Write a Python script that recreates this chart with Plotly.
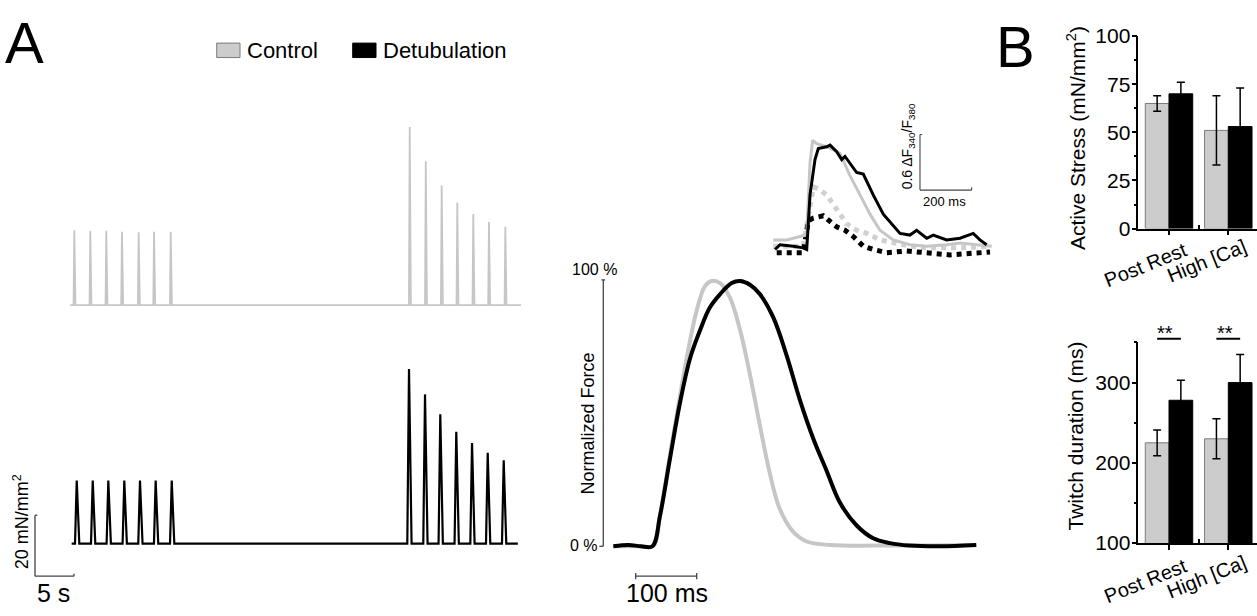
import plotly.graph_objects as go

W, H = 1257, 616

# ---------------- Panel A: long force recordings (time in s, stress in mN/mm2) -------------
ctrl_twitch_times = [5.04, 7.09, 9.14, 11.15, 13.29, 15.26, 17.40,
                     48.04, 50.10, 52.14, 54.14, 56.19, 58.20, 60.30]
ctrl_twitch_peaks = [24.6, 24.3, 24.4, 24.1, 23.9, 24.1, 24.1,
                     58.5, 47.2, 39.3, 33.7, 29.9, 27.3, 25.7]
ctrl_record_span = [4.5, 62.3]

detub_twitch_times = [5.35, 7.40, 9.40, 11.45, 13.46, 15.47, 17.53,
                      47.95, 50.00, 51.96, 54.01, 56.03, 58.04, 60.09]
detub_twitch_peaks = [20.7, 20.7, 20.7, 20.7, 20.7, 20.7, 20.7,
                      57.3, 49.0, 42.5, 36.7, 33.0, 29.8, 27.4]
detub_record_span = [4.7, 61.9]

# ---------------- Panel A: normalized twitch (ms, %) ----------------
norm_ctrl_t = [-65, -20, 0, 11.5, 27.9, 44, 58, 71.6, 85, 96, 110, 126, 142.6, 159,
               175.4, 191.8, 208, 230, 252, 290, 400, 525]
norm_ctrl_v = [0, 0, 0, 11.5, 34.3, 56, 74, 88.5, 97.6, 99.6, 98.8, 93.4, 81.3, 64.4,
               45.2, 27.1, 13.9, 5.4, 1.8, 0.5, 0.3, 0.5]
norm_detub_t = [-65, -40, -20, -1, 11.5, 27.9, 44, 60.7, 77, 93.4, 109.8, 129, 142.6,
                159, 175.4, 197, 219, 241, 262.8, 284.7, 306.6, 333.9, 361, 388.5,
                420, 470, 530]
norm_detub_v = [0, 0.5, 0, 0, 11.5, 33, 53.6, 70.5, 81, 89.7, 94.6, 98.8, 99.6,
                98.2, 94.6, 86, 71.7, 54.8, 40.4, 28.3, 16.3, 7.8, 3, 1.2,
                0.3, 0, 0.5]

# ---------------- Inset: Ca transients (ms, dF340/F380) ----------------
ca_ctrl_t = [-122.7, -70.8, -19.4, 6.6, 19.4, 29.8, 45.3, 84, 135.5, 174, 212.9,
             251.6, 290, 341.7, 406, 471, 548, 600, 664.5, 722.5]
ca_ctrl_v = [0.138, 0.138, 0.174, 0.19, 0.97, 1.214, 1.178, 1.144, 1.074, 0.832,
             0.624, 0.416, 0.242, 0.138, 0.086, 0.07, 0.086, 0.104, 0.086, 0.07]
ca_detub_t = [-116, -96.8, -45.3, -6.6, 6.6, 19.4, 38.7, 51.5, 84, 96.8, 122.7, 142,
              154.8, 174, 200, 225.6, 264, 303, 341.7, 367.7, 406, 432, 471, 496.5,
              548, 600, 651, 677, 703]
ca_detub_v = [0.034, 0.086, 0.07, 0.052, 0.034, 0.624, 1.006, 1.126, 1.144, 1.162,
              1.092, 1.006, 1.04, 0.97, 0.866, 0.85, 0.624, 0.416, 0.294, 0.208,
              0.19, 0.242, 0.156, 0.19, 0.138, 0.156, 0.208, 0.138, 0.086]
ca_ctrl_b_t = [-122.7, -6.6, 32, 51.5, 84, 122.7, 161.4, 200, 238.8, 290, 341.7,
               406, 471, 600, 716]
ca_ctrl_b_v = [0.07, 0.07, 0.71, 0.69, 0.624, 0.468, 0.312, 0.242, 0.208, 0.138,
               0.104, 0.07, 0.052, 0.052, 0.07]
ca_detub_b_t = [-109.5, -6.6, 12.8, 32, 70.8, 96.8, 122.7, 154.8, 187, 225.6, 264,
                316, 393.6, 561, 716]
ca_detub_b_v = [0, 0, 0.346, 0.374, 0.398, 0.346, 0.278, 0.242, 0.174, 0.07, 0.034,
                0, 0.018, -0.024, 0.007]

# ---------------- Panel B: bar data ----------------
conditions = ["Post Rest", "High [Ca]"]
stress_ctrl = [65, 51]
stress_ctrl_err = [4, 18]
stress_detub = [70, 53]
stress_detub_err = [6, 20]
dur_ctrl = [225, 230]
dur_ctrl_err = [16, 25]
dur_detub = [278, 300]
dur_detub_err = [25, 35]
significance = ["**", "**"]

GREY_LINE = "#c6c6c6"
GREY_DOT = "#d0d0d0"
GREY_BAR = "#cccccc"
BAR_EDGE = "#7a7a7a"
SCALE = "#444444"
FONT = "Liberation Sans, Arial, sans-serif"


def px(x):
    return x / W


def py(y):
    return 1 - y / H


def clamp_px(v, hi):
    return max(0.0, min(float(hi), v))


def dom_x(a, b):
    return [clamp_px(a, W) / W, clamp_px(b, W) / W]


def dom_y(top, bottom):
    return [1 - clamp_px(bottom, H) / H, 1 - clamp_px(top, H) / H]


def rng_x(a, b, ref_px, ref_val, ppu):
    a, b = clamp_px(a, W), clamp_px(b, W)
    return [ref_val + (a - ref_px) / ppu, ref_val + (b - ref_px) / ppu]


def rng_y(top, bottom, ref_px, ref_val, ppu):
    top, bottom = clamp_px(top, H), clamp_px(bottom, H)
    return [ref_val + (ref_px - bottom) / ppu, ref_val + (ref_px - top) / ppu]


def twitch_train(times, peaks, span, rise, decay):
    xs, ys = [span[0]], [0]
    for t, h in zip(times, peaks):
        xs += [t - rise, t, t + decay]
        ys += [0, h, 0]
    xs.append(span[1])
    ys.append(0)
    return xs, ys


fig = go.Figure()

cx, cy = twitch_train(ctrl_twitch_times, ctrl_twitch_peaks, ctrl_record_span, 0.10, 0.15)
dx, dy = twitch_train(detub_twitch_times, detub_twitch_peaks, detub_record_span, 0.22, 0.33)
fig.add_trace(go.Scatter(x=cx, y=cy, mode="lines", line=dict(color=GREY_LINE, width=1.8),
                         xaxis="x", yaxis="y", showlegend=False))
fig.add_trace(go.Scatter(x=dx, y=dy, mode="lines", line=dict(color="black", width=2.2),
                         xaxis="x2", yaxis="y2", showlegend=False))

fig.add_trace(go.Scatter(x=norm_ctrl_t, y=norm_ctrl_v, mode="lines", line_shape="spline",
                         line=dict(color=GREY_LINE, width=4), xaxis="x3", yaxis="y3",
                         showlegend=False))
fig.add_trace(go.Scatter(x=norm_detub_t, y=norm_detub_v, mode="lines", line_shape="spline",
                         line=dict(color="black", width=4), xaxis="x3", yaxis="y3",
                         showlegend=False))

fig.add_trace(go.Scatter(x=ca_ctrl_b_t, y=ca_ctrl_b_v, mode="lines",
                         line=dict(color=GREY_DOT, width=5, dash="5px,5px"),
                         xaxis="x4", yaxis="y4", showlegend=False))
fig.add_trace(go.Scatter(x=ca_detub_b_t, y=ca_detub_b_v, mode="lines",
                         line=dict(color="black", width=5, dash="5px,5px"),
                         xaxis="x4", yaxis="y4", showlegend=False))
fig.add_trace(go.Scatter(x=ca_ctrl_t, y=ca_ctrl_v, mode="lines",
                         line=dict(color=GREY_LINE, width=3), xaxis="x4", yaxis="y4",
                         showlegend=False))
fig.add_trace(go.Scatter(x=ca_detub_t, y=ca_detub_v, mode="lines",
                         line=dict(color="black", width=3), xaxis="x4", yaxis="y4",
                         showlegend=False))

BW = 0.4
pos = list(range(len(conditions)))
for xa, ya, vals_c, err_c, vals_d, err_d in [
    ("x5", "y5", stress_ctrl, stress_ctrl_err, stress_detub, stress_detub_err),
    ("x6", "y6", dur_ctrl, dur_ctrl_err, dur_detub, dur_detub_err),
]:
    fig.add_trace(go.Bar(x=pos, y=vals_c, width=BW, offset=-BW,
                         marker=dict(color=GREY_BAR, line=dict(color=BAR_EDGE, width=1)),
                         error_y=dict(type="data", array=err_c, color="black",
                                      thickness=1.5, width=4),
                         xaxis=xa, yaxis=ya, name="Control", showlegend=False))
    fig.add_trace(go.Bar(x=pos, y=vals_d, width=BW, offset=0,
                         marker=dict(color="black", line=dict(color="black", width=1)),
                         error_y=dict(type="data", array=err_d, color="black",
                                      thickness=1.5, width=4),
                         xaxis=xa, yaxis=ya, name="Detubulation", showlegend=False))

hidden = dict(showline=False, showticklabels=False, ticks="", showgrid=False,
              zeroline=False, fixedrange=True)

LONG_X = rng_x(0, 550, 35, 0, 7.8)
NORM_X = rng_x(560, 1000, 653, 0, 0.61)
INS_X = rng_x(765, 1000, 805, 0, 1 / 3.87)
BAR_X = rng_x(1138.3, 1257, 1169, 0, 59.3)

bar_x_common = dict(range=BAR_X, showline=True, linecolor="black", linewidth=1.5,
                    ticks="outside", ticklen=5, tickwidth=1.5, tickcolor="black",
                    tickmode="array", tickvals=pos, showticklabels=False,
                    minor=dict(tickmode="array", tickvals=[0.5], ticks="inside",
                               ticklen=4, tickwidth=1.5, tickcolor="black"),
                    showgrid=False, zeroline=False, fixedrange=True)
bar_y_common = dict(showline=True, linecolor="black", linewidth=1.5, ticks="outside",
                    ticklen=5, tickwidth=1.5, tickcolor="black", ticklabelstandoff=-3,
                    tickfont=dict(size=21, color="black", family=FONT),
                    showgrid=False, zeroline=False, fixedrange=True)

fig.update_layout(
    width=W, height=H, autosize=False,
    margin=dict(l=0, r=0, t=0, b=0, pad=0),
    paper_bgcolor="white", plot_bgcolor="rgba(0,0,0,0)",
    font=dict(family=FONT, color="black"),
    barmode="overlay",
    showlegend=False,
    xaxis=dict(domain=dom_x(0, 550), range=LONG_X, anchor="y", **hidden),
    yaxis=dict(domain=dom_y(100, 330), range=rng_y(100, 330, 304.5, 0, 3.165),
               anchor="x", **hidden),
    xaxis2=dict(domain=dom_x(0, 550), range=LONG_X, anchor="y2", **hidden),
    yaxis2=dict(domain=dom_y(345, 616), range=rng_y(345, 616, 552.3, 0, 3.165),
                anchor="x2", **hidden),
    xaxis3=dict(domain=dom_x(560, 1000), range=NORM_X, anchor="y3", **hidden),
    yaxis3=dict(domain=dom_y(250, 616), range=rng_y(250, 616, 555, 0, 2.767),
                anchor="x3", **hidden),
    xaxis4=dict(domain=dom_x(765, 1000), range=INS_X, anchor="y4", **hidden),
    yaxis4=dict(domain=dom_y(90, 262), range=rng_y(90, 262, 250, 0, 1 / 0.0104),
                anchor="x4", **hidden),
    xaxis5=dict(domain=dom_x(1138.3, 1257), anchor="y5", **bar_x_common),
    yaxis5=dict(domain=dom_y(25, 225), range=[0, 100], anchor="x5",
                tickmode="linear", tick0=0, dtick=25,
                minor=dict(dtick=12.5, tick0=0, ticks="outside", ticklen=3,
                           tickwidth=1.5, tickcolor="black"),
                **bar_y_common),
    xaxis6=dict(domain=dom_x(1138.3, 1257), anchor="y6", **bar_x_common),
    yaxis6=dict(domain=dom_y(343.3, 551.7), range=[100, 350], anchor="x6",
                tickmode="linear", tick0=100, dtick=100,
                minor=dict(dtick=50, tick0=100, ticks="outside", ticklen=3,
                           tickwidth=1.5, tickcolor="black"),
                **bar_y_common),
)

shapes = []


def line(x0, y0, x1, y1, xref="paper", yref="paper", color=SCALE, width=1.3):
    shapes.append(dict(type="line", x0=x0, y0=y0, x1=x1, y1=y1, xref=xref, yref=yref,
                       line=dict(color=color, width=width)))


# scale bars of the long recordings (20 mN/mm2, 5 s)
SB_T0, SB_V0 = 0.0, -10.65
line(SB_T0, SB_V0, SB_T0, SB_V0 + 20, "x2", "y2")
line(SB_T0, SB_V0 + 20, SB_T0 + 0.3, SB_V0 + 20, "x2", "y2")
line(SB_T0, SB_V0, SB_T0 + 5, SB_V0, "x2", "y2")
line(SB_T0 + 5, SB_V0, SB_T0 + 5, SB_V0 + 0.8, "x2", "y2")

# normalized-force axis and 100 ms bar
NA_T = -81.5
line(NA_T, 0, NA_T, 100, "x3", "y3")
line(NA_T - 6.5, 0, NA_T, 0, "x3", "y3")
line(NA_T - 3, 100, NA_T + 3, 100, "x3", "y3")
MS_T0, MS_V = -28.4, -11.2
line(MS_T0, MS_V, MS_T0 + 100, MS_V, "x3", "y3")
line(MS_T0, MS_V - 1.2, MS_T0, MS_V + 1.2, "x3", "y3")
line(MS_T0 + 100, MS_V - 1.2, MS_T0 + 100, MS_V + 1.2, "x3", "y3")

# inset scale bars (0.6 ratio, 200 ms)
IN_T0, IN_V0 = 445, 0.676
line(IN_T0, IN_V0, IN_T0, IN_V0 + 0.6, "x4", "y4", width=1.1)
line(IN_T0, IN_V0 + 0.6, IN_T0 + 8, IN_V0 + 0.6, "x4", "y4", width=1.1)
line(IN_T0, IN_V0, IN_T0 + 200, IN_V0, "x4", "y4", width=1.1)
line(IN_T0 + 200, IN_V0, IN_T0 + 200, IN_V0 + 0.03, "x4", "y4", width=1.1)

# significance lines
for i, s in enumerate(significance):
    shapes.append(dict(type="line", xref="x6", yref="paper", x0=pos[i] - 0.2,
                       x1=pos[i] + 0.2, y0=py(339.3), y1=py(339.3),
                       line=dict(color="black", width=2)))

# legend boxes
shapes.append(dict(type="rect", xref="paper", yref="paper", x0=px(216.7), x1=px(240),
                   y0=py(47.3), y1=py(32.3), fillcolor=GREY_BAR,
                   line=dict(color=BAR_EDGE, width=1)))
shapes.append(dict(type="rect", xref="paper", yref="paper", x0=px(352.7), x1=px(376),
                   y0=py(47.3), y1=py(32.3), fillcolor="black",
                   line=dict(color="black", width=1)))

fig.update_layout(shapes=shapes)

anns = []


def ann(text, x, y, size, angle=0, family=FONT, xanchor="center", yanchor="middle",
        color="black"):
    anns.append(dict(text=text, x=px(x), y=py(y), xref="paper", yref="paper",
                     showarrow=False, textangle=angle,
                     font=dict(size=size, family=family, color=color),
                     xanchor=xanchor, yanchor=yanchor))


ann("A", 24, 32, 58)
ann("B", 1015, 36, 58)
ann("Control", 245, 40, 22, xanchor="left")
ann("Detubulation", 381, 40, 22, xanchor="left")

ann("20 mN/mm<sup>2</sup>", 21, 530, 18, angle=-90)
ann("5 s", 54, 604, 25)
ann("Normalized Force", 588, 427.5, 18, angle=-90)
ann("100 %", 594, 267, 16)
ann("0 %", 584, 554, 16)
ann("100 ms", 667, 604, 25)
ann("0.6 \u0394F<sub>340</sub>/F<sub>380</sub>", 907.5, 139, 14, angle=-90)
ann("200 ms", 945, 197, 13)

ann("Active Stress (mN/mm<sup>2</sup>)", 1076, 131, 21, angle=-90)
ann("Twitch duration (ms)", 1076, 441, 21, angle=-90)
for yoff in (262.5, 591):
    ann(conditions[0], 1145, yoff, 20, angle=-22)
    ann(conditions[1], 1206, yoff - 4, 20, angle=-22)
for i, s in enumerate(significance):
    ann(s, 1165 + 60 * i, 333, 20)

fig.update_layout(annotations=anns)

PAGE_FIX = (
    "var r=document.documentElement, b=document.body;"
    "r.style.margin='0'; r.style.padding='0'; r.style.overflow='hidden';"
    "b.style.margin='0'; b.style.padding='0'; b.style.overflow='hidden';"
    "var d=document.getElementById('{plot_id}');"
    "d.style.position='fixed'; d.style.left='0px'; d.style.top='0px';"
)

fig.write_html("out.html", config={"displayModeBar": False}, post_script=PAGE_FIX)
